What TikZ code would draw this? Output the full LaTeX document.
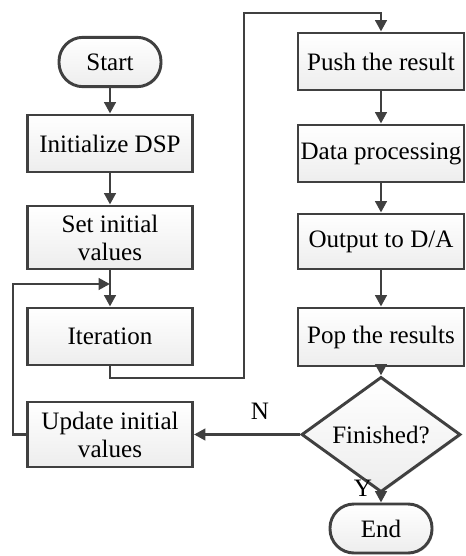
\documentclass[tikz,border=0pt]{standalone}
\usepackage{fontspec}
\setmainfont{Liberation Serif}
\usetikzlibrary{arrows.meta,shapes.geometric,shadows}
\definecolor{linegray}{HTML}{404040}
\begin{document}
\begin{tikzpicture}[x=0.75pt,y=-0.75pt,
  font=\fontsize{18.8}{21}\selectfont,
  every node/.style={text=black},
  boxbase/.style={draw=linegray,line width=2.2pt,top color=white,bottom color=gray!14,
    drop shadow={shadow xshift=1pt,shadow yshift=-1pt,fill=gray!45,opacity=0.6},
    align=center,inner sep=1pt},
  procbox/.style={boxbase,rectangle,minimum width=123.75pt},
  termbox/.style={boxbase,rectangle,rounded corners=18pt,minimum width=76.5pt,minimum height=37pt},
  decbox/.style={boxbase,diamond,minimum width=119.25pt,minimum height=57.75pt,inner sep=0pt},
  flow/.style={draw=linegray,line width=2.2pt,-{Triangle[length=8.5pt,width=8.5pt]}},
  lbl/.style={font=\fontsize{18.8}{21}\selectfont}]
\useasboundingbox (0,0) rectangle (465,556);

% left column
\node[termbox] (start) at (110,62) {Start};
\node[procbox,minimum height=42.75pt] (init) at (110,143.5) {Initialize DSP};
\node[procbox,minimum height=47.25pt] (set) at (110,237.5) {Set initial\\values};
\node[procbox,minimum height=42.75pt] (iter) at (110,336.5) {Iteration};
\node[procbox,minimum height=48.75pt] (upd) at (110,434.5) {Update initial\\values};

% right column
\node[procbox,minimum width=124.5pt,minimum height=42.75pt] (push) at (381,61.5) {Push the result};
\node[procbox,minimum width=124.5pt,minimum height=42.75pt] (data) at (381,153.5) {Data processing};
\node[procbox,minimum width=124.5pt,minimum height=41.25pt] (out) at (381,241.5) {Output to D/A};
\node[procbox,minimum width=124.5pt,minimum height=43.5pt] (pop) at (381,337) {Pop the results};
\node[decbox] (fin) at (381,434.5) {Finished?};
\node[termbox,minimum height=36.75pt] (end) at (381,528.5) {End};

% junction points of the routed connectors
\coordinate (merge) at (110,284);
\coordinate (loopL) at (13,284);
\coordinate (iterDown) at (110,378);
\coordinate (midLow) at (244,378);
\coordinate (midTop) at (244,13);
\coordinate (pushTop) at (381,13);

% straight flow
\draw[flow] (start) -- (init);
\draw[flow] (init) -- (set);
\draw[flow] (set) -- (iter);
\draw[flow] (push) -- (data);
\draw[flow] (data) -- (out);
\draw[flow] (out) -- (pop);
\draw[flow] (pop) -- (fin);
\draw[flow] (fin) -- (end);
\draw[flow] (fin) -- (upd);

% iteration to the right column
\draw[flow] (iter.south) -- (iterDown) -- (midLow) -- (midTop) -- (pushTop) -- (push.north);

% feedback loop
\draw[flow] (upd.west) -| (loopL) -- (merge);

% labels
\node[lbl] (nlbl) at (260,411) {N};
\node[lbl] (ylbl) at (363,488) {Y};
\end{tikzpicture}
\end{document}
